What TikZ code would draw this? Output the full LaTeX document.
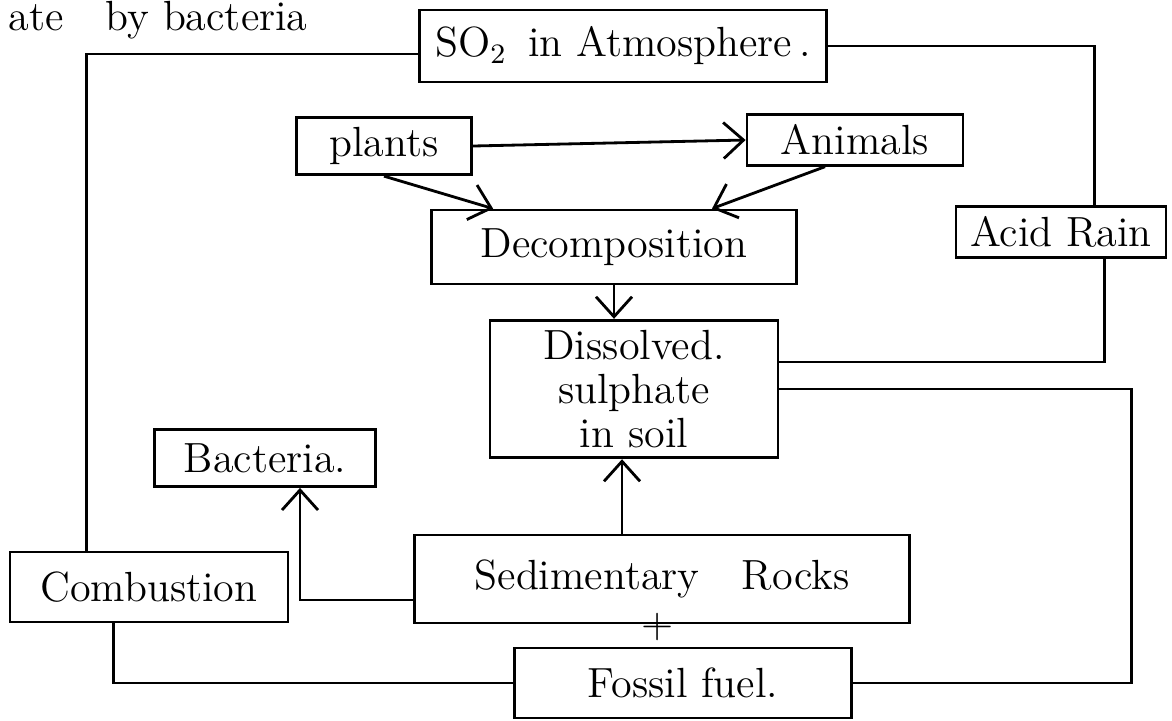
\documentclass[tikz,border=0pt]{standalone}
\usepackage{xcolor}
\usepackage{tikz}
\usetikzlibrary{arrows.meta,positioning}

\begin{document}
\begin{tikzpicture}[
      x=0.1mm, y=-0.1mm,
      font=\fontsize{12}{14}\selectfont,
      box/.style={draw, thick, inner sep=1mm, align=center},
      arr/.style={-{Straight Barb[length=2mm,width=3.6mm]}, thick},
      line/.style={thick},
    ]
    \useasboundingbox (0,0) rectangle (1172,720);

    % note carried over from the page above
    \node (note) [anchor=west] at (-4,20) {ate\quad by bacteria};

    % boxes
    \node (so2) [box, minimum width=40.7mm, minimum height=7.2mm] at (623,46) {SO$_2$\enspace in Atmosphere\,.};
    \node (plants) [box, minimum width=17.5mm, minimum height=4.8mm] at (384,146) {plants};
    \node (animals) [box, minimum width=21.6mm, minimum height=4.5mm] at (855,140) {Animals};
    \node (decomp) [box, minimum width=36.5mm, minimum height=7.4mm] at (614,247) {Decomposition};
    \node (acid) [box, minimum width=21mm, minimum height=4.5mm] at (1061,232) {Acid Rain};
    \node (diss) [box, minimum width=28.8mm, minimum height=11.4mm, font=\fontsize{12}{12.5}\selectfont] at (634,389) {Dissolved.\\sulphate\\in soil};
    \node (bact) [box, minimum width=22.1mm, minimum height=5.7mm] at (265,458) {Bacteria.};
    \node (comb) [box, minimum width=27.8mm, minimum height=7mm] at (149,587) {Combustion};
    \node (sed) [box, minimum width=49.5mm, minimum height=8.8mm] at (662,579) {Sedimentary\quad Rocks};
    \node (plus) at (658,627) {+};
    \node (fossil) [box, minimum width=33.7mm, minimum height=7mm] at (683,683) {Fossil fuel.};

    % food chain
    \draw [arr] (plants.east) -- (animals.west);
    \draw [arr] (plants.south) -- ([xshift=6.3mm]decomp.north west);
    \draw [arr] ([xshift=-3mm]animals.south) -- ([xshift=9.8mm]decomp.north);
    \draw [arr] (decomp.south) -- (decomp.south |- diss.north);

    % rocks
    \coordinate (dissin) at ([xshift=-1.2mm]diss.south);
    \draw [arr] (sed.north -| dissin) -- (dissin);
    \draw [arr] ([yshift=-2.1mm]sed.west) -| ([xshift=3.5mm]bact.south);

    % outer loop
    \draw [line] ([xshift=7.8mm]comb.north west) |- ([yshift=-0.8mm]so2.west);
    \draw [line] (so2.east) -| ([xshift=14mm]acid.north west);
    \draw [line] ([xshift=15mm]acid.south west) |- ([yshift=2.7mm]diss.east);
    \draw [line] (diss.east) -- ++(352,0) |- (fossil.east);
    \draw [line] (fossil.west) -| ([xshift=10.5mm]comb.south west);
  \end{tikzpicture}
\end{document}
